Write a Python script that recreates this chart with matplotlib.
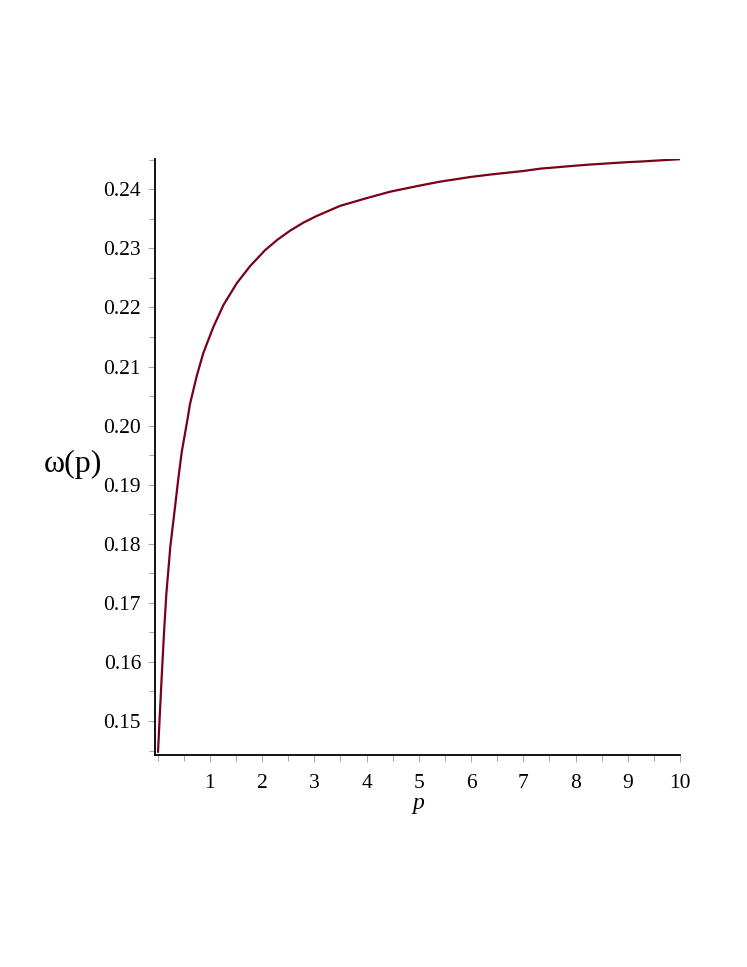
import numpy as np
import matplotlib
matplotlib.use("Agg")
from matplotlib import pyplot as plt
from matplotlib.ticker import MultipleLocator

# values
p = [0.01, 0.042, 0.086, 0.125, 0.169, 0.245, 0.335, 0.398, 0.463, 0.571,
     0.623, 0.751, 0.877, 1.069, 1.261, 1.517, 1.772, 2.059, 2.3, 2.538,
     2.8, 3.05, 3.496, 4.0, 4.454, 5.0, 5.41, 6.0, 6.37, 7.0,
     7.33, 8.0, 8.29, 9.0, 9.24, 10.0]
omega = [0.1448, 0.1507, 0.1585, 0.1650, 0.1715, 0.1795, 0.1862, 0.1910, 0.1955, 0.2009,
         0.2037, 0.2084, 0.2123, 0.2167, 0.2204, 0.2241, 0.2270, 0.2297, 0.2315, 0.2330,
         0.2344, 0.2355, 0.2372, 0.2385, 0.2396, 0.2406, 0.2413, 0.2421, 0.2425, 0.2431,
         0.2435, 0.2440, 0.2442, 0.2446, 0.2447, 0.2451]

xticks = [1, 2, 3, 4, 5, 6, 7, 8, 9, 10]
yticks = [0.15, 0.16, 0.17, 0.18, 0.19, 0.20, 0.21, 0.22, 0.23, 0.24]

plt.rcParams['font.family'] = ['Liberation Serif', 'DejaVu Serif']

fig = plt.figure(figsize=(7.47, 9.67), dpi=100)
ax = fig.add_axes([155/747, 1 - 755/967, 525/747, (755 - 159.3)/967])

ax.plot(p, omega, color='#7a0019', lw=1.6, solid_joinstyle='round')

ax.set_xlim(-0.048, 10.0)
ax.set_ylim(0.14424, 0.24508)

for s in ['top', 'right']:
    ax.spines[s].set_visible(False)
for s in ['left', 'bottom']:
    ax.spines[s].set_linewidth(1.3)
    ax.spines[s].set_color('black')

ax.set_xticks(xticks)
ax.set_xticklabels([str(t) for t in xticks])
ax.set_yticks(yticks)
ax.set_yticklabels(["%.2f" % t for t in yticks])
ax.xaxis.set_minor_locator(MultipleLocator(0.5))
ax.yaxis.set_minor_locator(MultipleLocator(0.005))

ax.tick_params(which='both', direction='out', color='#aaaaaa', width=0.8,
               labelsize=15.5)
ax.tick_params(which='major', length=5)
ax.tick_params(which='minor', length=4)
ax.tick_params(axis='x', pad=9)
ax.tick_params(axis='y', pad=5)

fig.text(418/747, 1 - 803/967, 'p', style='italic', fontsize=17,
         ha='center', va='center')
fig.text(72.7/747, 1 - 464/967, 'ω(p)', fontsize=23, ha='center', va='center')

fig.savefig('out.png', dpi=100)
